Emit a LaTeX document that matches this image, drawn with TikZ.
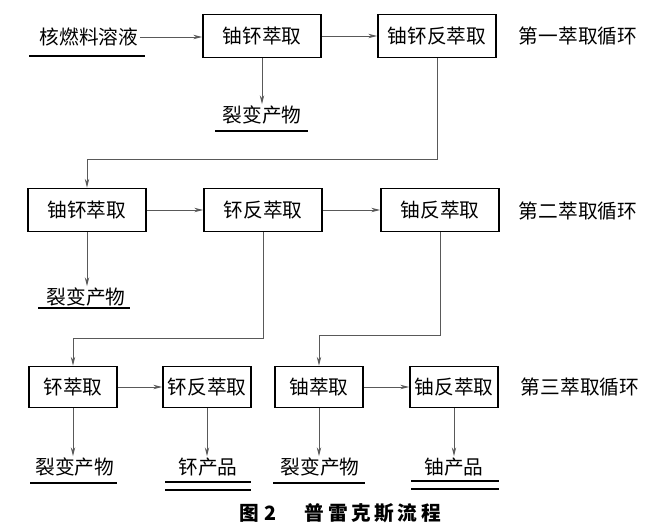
\documentclass[tikz,border=0pt]{standalone}
\usepackage{fontspec}
\newfontfamily\cjk{Noto Sans CJK SC}
\usetikzlibrary{arrows.meta}

\begin{document}
\begin{tikzpicture}[x=0.25mm,y=-0.25mm,
  box/.style={draw,line width=1.3pt,font=\cjk\fontsize{14}{16}\selectfont,inner sep=0pt},
  bigbox/.style={box,minimum width=29.5mm,minimum height=10.75mm},
  smallbox/.style={box,minimum width=22mm,minimum height=10.25mm},
  txt/.style={font=\cjk\fontsize{14}{16}\selectfont,inner sep=1pt},
  flow/.style={draw=black!65,line width=0.6pt,-{Stealth[length=2.2mm,width=1.1mm]}},
  rule/.style={line width=1.2pt}]
\useasboundingbox[fill=white] (0,0) rectangle (660,528);

% first cycle
\node[txt] (feed) at (89,37) {核燃料溶液};
\node[bigbox] (ex1) at (262,36) {铀钚萃取};
\node[bigbox] (strip1) at (437,36) {铀钚反萃取};
\node[txt] (fp1) at (262,115) {裂变产物};
\node[txt] (cyc1) at (578,36) {第一萃取循环};
\draw[rule] (29,56) -- (145,56);
\draw[rule] (215,131) -- (308,131);

\draw[flow] (feed.east) -- (feed.east -| ex1.west);
\draw[flow] (ex1) -- (strip1);
\draw[flow] (ex1) -- (ex1 |- fp1.north);

% second cycle
\node[bigbox] (ex2) at (87,210) {铀钚萃取};
\node[bigbox] (pustrip2) at (263,210) {钚反萃取};
\node[bigbox] (ustrip2) at (440,210) {铀反萃取};
\node[txt] (fp2) at (86,297) {裂变产物};
\node[txt] (cyc2) at (578,211) {第二萃取循环};
\draw[rule] (38,308) -- (130,308);

\coordinate (bend1) at (0,159);
\draw[flow] (strip1.south) -- (strip1.south |- bend1) -| (ex2.north);
\draw[flow] (ex2) -- (pustrip2);
\draw[flow] (pustrip2) -- (ustrip2);
\draw[flow] (ex2) -- (ex2 |- fp2.north);

% third cycle
\node[smallbox] (puex3) at (73,387) {钚萃取};
\node[smallbox] (pustrip3) at (207,387) {钚反萃取};
\node[smallbox] (uex3) at (319,387) {铀萃取};
\node[smallbox] (ustrip3) at (454,387) {铀反萃取};
\node[txt] (cyc3) at (580,387) {第三萃取循环};
\node[txt] (fp3) at (75,467) {裂变产物};
\node[txt] (puprod) at (208,467) {钚产品};
\node[txt] (fp4) at (320,467) {裂变产物};
\node[txt] (uprod) at (454,467) {铀产品};
\draw[rule] (30,483) -- (117,483);
\draw[rule] (165,482) -- (251,482);
\draw[rule] (165,490) -- (251,490);
\draw[rule] (273,483) -- (365,483);
\draw[rule] (411,481) -- (499,481);
\draw[rule] (411,489) -- (499,489);

\coordinate (bend2) at (0,338);
\coordinate (bend3) at (0,335);
\draw[flow] (pustrip2.south) -- (pustrip2.south |- bend2) -| (puex3.north);
\draw[flow] (ustrip2.south) -- (ustrip2.south |- bend3) -| (uex3.north);
\draw[flow] (puex3) -- (pustrip3);
\draw[flow] (uex3) -- (ustrip3);
\draw[flow] (puex3) -- (puex3 |- fp3.north);
\draw[flow] (pustrip3) -- (pustrip3 |- puprod.north);
\draw[flow] (uex3) -- (uex3 |- fp4.north);
\draw[flow] (ustrip3) -- (ustrip3 |- uprod.north);

\node[txt,font=\cjk\bfseries\fontsize{14}{16}\selectfont] (caption) at (340,513)
  {图\hspace{1.5mm}2\hspace{7mm}普\hspace{0.9mm}雷\hspace{0.9mm}克\hspace{0.9mm}斯\hspace{0.9mm}流\hspace{0.9mm}程};
\end{tikzpicture}
\end{document}
